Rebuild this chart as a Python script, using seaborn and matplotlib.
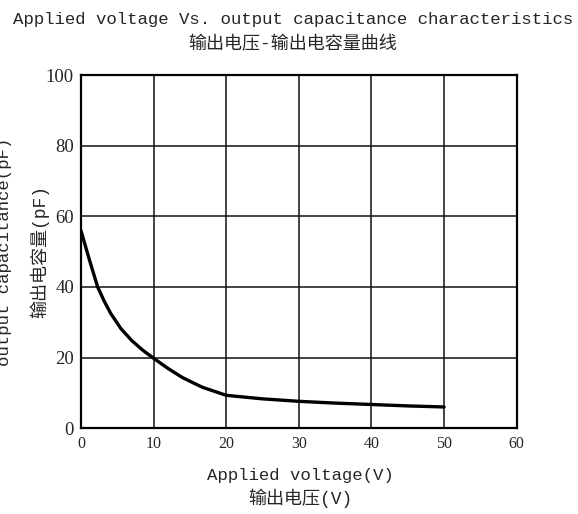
import seaborn as sns
import pandas as pd
import matplotlib.pyplot as plt

# 曲线数据
voltage = [0, 1.15, 2.3, 3.2, 4.1, 5.5, 7, 8.5, 10, 12, 14, 16.7, 20, 25, 30, 35, 40, 45, 50]
capacitance = [56, 47.8, 40, 36, 32.5, 28.2, 24.8, 22.1, 19.8, 16.9, 14.3, 11.6, 9.3,
               8.3, 7.6, 7.1, 6.7, 6.3, 6.0]

x_ticks = [0, 10, 20, 30, 40, 50, 60]
y_ticks = [0, 20, 40, 60, 80, 100]

df = pd.DataFrame({'V': voltage, 'C': capacitance})

sns.set_style('white')
mixed = ['Liberation Mono', 'Noto Sans CJK SC', 'DejaVu Sans']

fig = plt.figure(figsize=(5.78, 5.14), dpi=100)
ax = fig.add_axes([0.140, 0.167, 0.754, 0.687])

sns.lineplot(data=df, x='V', y='C', color='black', linewidth=2.4, ax=ax)

ax.set_xlim(0, 60)
ax.set_ylim(0, 100)
ax.set_xticks(x_ticks)
ax.set_yticks(y_ticks)
ax.grid(True, color='#111111', linewidth=1.1)
ax.tick_params(length=0)
ax.tick_params(axis='x', pad=6)
ax.tick_params(axis='y', pad=5)
for lab in ax.get_xticklabels():
    lab.set_fontfamily('Liberation Serif')
    lab.set_fontsize(11.5)
for lab in ax.get_yticklabels():
    lab.set_fontfamily('Liberation Serif')
    lab.set_fontsize(13.5)
for s in ax.spines.values():
    s.set_color('black')
    s.set_linewidth(1.6)
ax.set_xlabel('')
ax.set_ylabel('')

# 标题
fig.text(0.507, 0.963, 'Applied voltage Vs. output capacitance characteristics',
         ha='center', va='center', fontsize=12.5, family=mixed)
fig.text(0.507, 0.913, '输出电压-输出电容量曲线',
         ha='center', va='center', fontsize=13, family=mixed)

# 坐标轴标题
fig.text(0.520, 0.075, 'Applied voltage(V)', ha='center', va='center',
         fontsize=12.5, family=mixed)
fig.text(0.520, 0.030, '输出电压(V)', ha='center', va='center',
         fontsize=13, family=mixed)
fig.text(0.008, 0.510, 'output capacitance(pF)', ha='center', va='center',
         rotation=90, fontsize=12.5, family=mixed)
fig.text(0.068, 0.510, '输出电容量(pF)', ha='center', va='center',
         rotation=90, fontsize=13, family=mixed)

plt.savefig('out.png', dpi=100)
